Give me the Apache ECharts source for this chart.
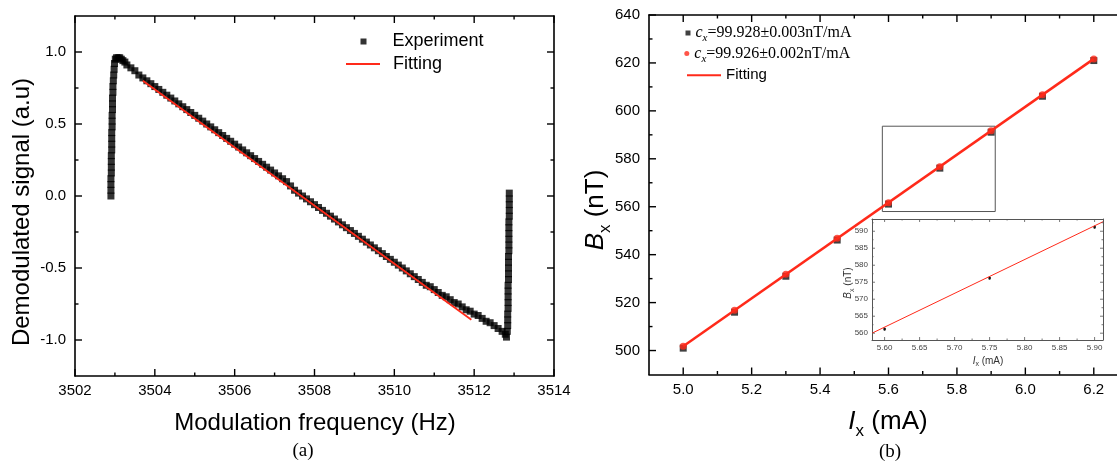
<!DOCTYPE html>
<html><head><meta charset="utf-8">
<script src="https://cdn.jsdelivr.net/npm/echarts@6/dist/echarts.min.js"></script>
<style>html,body{margin:0;padding:0;background:#fff}#c{width:1117px;height:461px}</style>
</head><body><div id="c"></div><script>
// ---------- (a) Demodulated signal ----------
const expFreq = [
3502.90,3502.90,3502.90,3502.90,3502.91,3502.91,3502.91,3502.91,3502.92,3502.92,3502.92,3502.92,
3502.93,3502.93,3502.93,3502.94,3502.94,3502.94,3502.95,3502.95,3502.96,3502.97,3502.98,3502.99,
3503.01,3503.04,3503.08,3503.12,3503.16,3503.20,3503.25,
3503.3,3503.4,3503.5,3503.6,3503.7,3503.8,3503.9,3504.0,3504.1,3504.2,3504.3,3504.4,3504.5,3504.6,3504.7,3504.8,3504.9,
3505.0,3505.1,3505.2,3505.3,3505.4,3505.5,3505.6,3505.7,3505.8,3505.9,3506.0,3506.1,3506.2,3506.3,3506.4,3506.5,3506.6,3506.7,3506.8,3506.9,
3507.0,3507.1,3507.2,3507.3,3507.4,3507.5,3507.6,3507.7,3507.8,3507.9,3508.0,3508.1,3508.2,3508.3,3508.4,3508.5,3508.6,3508.7,3508.8,3508.9,
3509.0,3509.1,3509.2,3509.3,3509.4,3509.5,3509.6,3509.7,3509.8,3509.9,3510.0,3510.1,3510.2,3510.3,3510.4,3510.5,3510.6,3510.7,3510.8,3510.9,
3511.0,3511.1,3511.2,3511.3,3511.4,3511.5,3511.6,3511.7,3511.8,3511.9,3512.0,3512.1,3512.2,3512.3,3512.4,3512.5,3512.6,3512.7,3512.78,3512.81,
3512.83,3512.84,3512.84,3512.84,3512.85,3512.85,3512.85,3512.85,3512.85,3512.86,3512.86,3512.86,3512.86,
3512.86,3512.87,3512.87,3512.87,3512.87,3512.87,3512.87,3512.88,3512.88,3512.88,3512.88,3512.88
];
const expSignal = [
0.00,0.04,0.08,0.12,0.16,0.20,0.24,0.28,0.32,0.36,0.40,0.44,
0.48,0.52,0.56,0.60,0.64,0.68,0.72,0.76,0.80,0.84,0.88,0.92,
0.95,0.96,0.96,0.96,0.95,0.94,0.93,
0.91,0.89,0.87,0.84,0.82,0.80,0.78,0.76,0.74,0.72,0.70,0.68,0.66,0.64,0.62,0.60,0.58,
0.56,0.54,0.52,0.50,0.48,0.46,0.44,0.42,0.40,0.38,0.36,0.34,0.32,0.30,0.28,0.26,0.24,0.22,0.20,0.18,
0.16,0.14,0.12,0.10,0.07,0.04,0.02,0.00,-0.02,-0.04,-0.06,-0.08,-0.10,-0.12,-0.14,-0.16,-0.18,-0.20,-0.22,-0.24,
-0.26,-0.28,-0.30,-0.32,-0.34,-0.36,-0.38,-0.40,-0.42,-0.44,-0.46,-0.48,-0.50,-0.52,-0.54,-0.56,-0.58,-0.60,-0.62,-0.63,
-0.65,-0.67,-0.69,-0.70,-0.72,-0.74,-0.75,-0.77,-0.79,-0.80,-0.82,-0.83,-0.85,-0.87,-0.88,-0.90,-0.92,-0.94,-0.96,-0.98,
-0.94,-0.90,-0.86,-0.82,-0.78,-0.74,-0.70,-0.66,-0.62,-0.58,-0.54,-0.50,-0.46,
-0.42,-0.38,-0.34,-0.30,-0.26,-0.22,-0.18,-0.14,-0.10,-0.06,-0.02,0.02
];
const fitFreqA = [3503.70, 3511.93];
const fitSignalA = [0.80, -0.86];
const freqRange = [3502, 3514];
const freqTicks = [3502, 3504, 3506, 3508, 3510, 3512, 3514];
const freqMinorTicks = [3503, 3505, 3507, 3509, 3511, 3513];
const signalRange = [-1.25, 1.25];
const signalTicks = [-1.0, -0.5, 0.0, 0.5, 1.0];
const signalMinorTicks = [-0.75, -0.25, 0.25, 0.75];

// ---------- (b) Bx vs Ix ----------
const currentIx = [5.0, 5.15, 5.3, 5.45, 5.6, 5.75, 5.9, 6.05, 6.2];
const fieldBlack = [501.0, 516.0, 531.0, 546.1, 561.1, 576.1, 591.1, 606.1, 621.0];
const fieldRed = [501.8, 516.8, 531.8, 546.8, 561.7, 576.7, 591.7, 606.7, 621.6];
const fitIx = [5.0, 6.2];
const fitBx = [501.8, 621.7];
const ixRange = [4.9, 6.3];
const ixTicks = [5.0, 5.2, 5.4, 5.6, 5.8, 6.0, 6.2];
const ixMinorTicks = [5.1, 5.3, 5.5, 5.7, 5.9, 6.1];
const bxRange = [490, 640];
const bxTicks = [500, 520, 540, 560, 580, 600, 620, 640];
const bxMinorTicks = [510, 530, 550, 570, 590, 610, 630];
const zoomIx = [5.582, 5.912];
const zoomBx = [558.0, 593.6];
// inset
const insetIx = [5.60, 5.75, 5.90];
const insetBx = [561.2, 576.2, 591.2];
const insetErr = [0.5, 0.5, 0.5];
const insetFitIx = [5.582, 5.912];
const insetFitBx = [560.0, 592.8];
const insetIxRange = [5.582, 5.912];
const insetIxTicks = [5.60, 5.65, 5.70, 5.75, 5.80, 5.85, 5.90];
const insetIxMinorTicks = [5.625, 5.675, 5.725, 5.775, 5.825, 5.875];
const insetBxRange = [558.0, 593.6];
const insetBxTicks = [560, 565, 570, 575, 580, 585, 590];
const insetBxMinorTicks = [562.5, 567.5, 572.5, 577.5, 582.5, 587.5, 592.5];

const SANS = 'Liberation Sans, Arial, sans-serif';
const SERIF = 'Liberation Serif, Times New Roman, serif';
const RED = '#ff2a1a';

function panel(p, box, xr, yr, xT, xMt, yT, yMt, st, fmtX, fmtY) {
  const grid = Object.assign({ outerBoundsMode: 'none', containLabel: false }, box,
    st.bg ? { show: true, backgroundColor: '#fff', borderWidth: 0 } : {});
  const ax = (pos, r, labels, fmt, margin) => ({
    type: 'value', gridIndex: p, position: pos, min: r[0], max: r[1],
    axisLine: { show: true, onZero: false, lineStyle: { color: st.color, width: st.lineWidth } },
    axisTick: { show: false },
    axisLabel: labels ? { show: true, customValues: labels, formatter: fmt, fontSize: st.fontSize, fontFamily: SANS,
      color: st.labelColor, margin: margin } : { show: false },
    splitLine: { show: false }
  });
  const xAxis = [ax('bottom', xr, xT, fmtX, st.marginX), ax('top', xr, null)];
  const yAxis = [ax('left', yr, yT, fmtY, st.marginY), ax('right', yr, null)];
  // tick marks on all four sides, pointing into the box, placed through the axes' scales
  // item: [x, y, side(0 = x tick, 1 = y tick), length]
  const tickData = [].concat(
    xT.map(v => [v, yr[0], 0, st.majorLen]), xMt.map(v => [v, yr[0], 0, st.minorLen]),
    yT.map(v => [xr[0], v, 1, st.majorLen]), yMt.map(v => [xr[0], v, 1, st.minorLen]));
  const ticks = {
    type: 'custom', name: 'ticks' + p, xAxisIndex: 2 * p, yAxisIndex: 2 * p, silent: true, clip: false, z: 10,
    data: tickData,
    renderItem: function (params, api) {
      const pt = api.coord([api.value(0), api.value(1)]);
      const side = api.value(2), len = api.value(3);
      const cs = params.coordSys;
      const sty = { stroke: st.tickColor, lineWidth: st.tickWidth };
      if (side === 0) {
        const x = pt[0], b = cs.y + cs.height, t = cs.y;
        return { type: 'group', children: [
          { type: 'line', shape: { x1: x, y1: b, x2: x, y2: b - len }, style: sty },
          { type: 'line', shape: { x1: x, y1: t, x2: x, y2: t + len }, style: sty } ] };
      }
      const y = pt[1], l = cs.x, r = cs.x + cs.width;
      return { type: 'group', children: [
        { type: 'line', shape: { x1: l, y1: y, x2: l + len, y2: y }, style: sty },
        { type: 'line', shape: { x1: r, y1: y, x2: r - len, y2: y }, style: sty } ] };
    }
  };
  return { grid, xAxis, yAxis, ticks };
}

const mainStyle = { color: '#000', tickColor: '#000', lineWidth: 1.6, tickWidth: 1.4, majorLen: 7, minorLen: 3.5, fontSize: 15, labelColor: '#000' };
const insetStyle = { color: '#555', tickColor: '#555', lineWidth: 1, tickWidth: 0.8, majorLen: 3, minorLen: 1.5, fontSize: 8, labelColor: '#444',
  marginX: 4, marginY: 4, bg: true };

const pA = panel(0, { left: 75, top: 16, width: 479, height: 360 }, freqRange, signalRange,
  freqTicks, freqMinorTicks, signalTicks, signalMinorTicks,
  Object.assign({}, mainStyle, { marginX: 7, marginY: 9 }), v => String(Math.round(v)), v => v.toFixed(1));
const pB = panel(1, { left: 649, top: 15, width: 479, height: 359.5 }, ixRange, bxRange,
  ixTicks, ixMinorTicks, bxTicks, bxMinorTicks,
  Object.assign({}, mainStyle, { marginX: 8, marginY: 9 }), v => v.toFixed(1), v => String(Math.round(v)));
const pC = panel(2, { left: 872, top: 219, width: 231, height: 121 }, insetIxRange, insetBxRange,
  insetIxTicks, insetIxMinorTicks, insetBxTicks, insetBxMinorTicks,
  insetStyle, v => v.toFixed(2), v => String(Math.round(v)));

const zip = (a, b) => a.map((v, i) => [v, b[i]]);
const sub = (b, c, s, f) => ({
  c: { fontFamily: f, fontSize: b, fontStyle: 'italic', lineHeight: b + 6, color: c },
  s: { fontFamily: f, fontSize: s, fontStyle: 'italic', verticalAlign: 'bottom', lineHeight: s - 1, color: c },
  t: { fontFamily: f, fontSize: b, lineHeight: b + 6, color: c } });

const chart = echarts.init(document.getElementById('c'), null, { renderer: 'canvas' });
chart.setOption({
  animation: false,
  backgroundColor: '#fff',
  grid: [pA.grid, pB.grid, pC.grid],
  xAxis: [].concat(pA.xAxis, pB.xAxis, pC.xAxis),
  yAxis: [].concat(pA.yAxis, pB.yAxis, pC.yAxis),
  legend: [
    { data: ['Experiment'], left: 360.5, top: 31.5, padding: 0, icon: 'rect', itemWidth: 6, itemHeight: 6,
      selectedMode: false,
      textStyle: { fontFamily: SANS, fontSize: 18, color: '#000', lineHeight: 20, padding: [0, 0, 0, 21] } },
    { data: ['Fitting'], left: 346, top: 54, padding: 0, icon: 'rect', itemWidth: 34, itemHeight: 2,
      selectedMode: false,
      textStyle: { fontFamily: SANS, fontSize: 18, color: '#000', lineHeight: 20, padding: [0, 0, 0, 8] } },
    { data: ['cx1'], left: 685.5, top: 25, padding: 0, icon: 'rect', itemWidth: 5, itemHeight: 5,
      selectedMode: false,
      formatter: () => '{c|c}{s|x}{t|=99.928\u00B10.003nT/mA}',
      textStyle: { color: '#000', rich: sub(16, '#000', 11, SERIF) } },
    { data: ['cx2'], left: 684.3, top: 45.5, padding: 0, icon: 'circle', itemWidth: 5, itemHeight: 5,
      selectedMode: false,
      formatter: () => '{c|c}{s|x}{t|=99.926\u00B10.002nT/mA}',
      textStyle: { color: '#000', rich: sub(16, '#000', 11, SERIF) } },
    { data: ['FittingB'], left: 687, top: 67.3, padding: 0, icon: 'rect', itemWidth: 34, itemHeight: 2,
      selectedMode: false, formatter: () => 'Fitting',
      textStyle: { fontFamily: SANS, fontSize: 15, color: '#000', lineHeight: 16 } }
  ],
  series: [
    pA.ticks, pB.ticks, pC.ticks,
    { name: 'Experiment', type: 'scatter', xAxisIndex: 0, yAxisIndex: 0, symbol: 'rect', symbolSize: 7,
      itemStyle: { color: '#000' }, data: zip(expFreq, expSignal), silent: true },
    { name: 'Fitting', type: 'line', xAxisIndex: 0, yAxisIndex: 0, showSymbol: false, symbol: 'none',
      itemStyle: { color: RED }, lineStyle: { color: RED, width: 1.8 }, data: zip(fitFreqA, fitSignalA), silent: true },

    { name: 'cx1', type: 'scatter', xAxisIndex: 2, yAxisIndex: 2, symbol: 'rect', symbolSize: 7,
      itemStyle: { color: '#111' }, data: zip(currentIx, fieldBlack), silent: true,
      markArea: { silent: true, label: { show: false },
        itemStyle: { color: 'rgba(0,0,0,0)', borderColor: '#555', borderWidth: 1 },
        data: [[{ coord: [zoomIx[0], zoomBx[0]] }, { coord: [zoomIx[1], zoomBx[1]] }]] } },
    { name: 'FittingB', type: 'line', xAxisIndex: 2, yAxisIndex: 2, showSymbol: false, symbol: 'none',
      itemStyle: { color: RED }, lineStyle: { color: RED, width: 2.5 }, data: zip(fitIx, fitBx), silent: true },
    { name: 'cx2', type: 'scatter', xAxisIndex: 2, yAxisIndex: 2, symbol: 'circle', symbolSize: 7,
      itemStyle: { color: RED }, data: zip(currentIx, fieldRed), silent: true },

    { name: 'insetFit', type: 'line', xAxisIndex: 4, yAxisIndex: 4, showSymbol: false, symbol: 'none',
      lineStyle: { color: RED, width: 1 }, data: zip(insetFitIx, insetFitBx), silent: true },
    { name: 'insetPts', type: 'custom', xAxisIndex: 4, yAxisIndex: 4, silent: true,
      data: insetIx.map((x, i) => [x, insetBx[i], insetErr[i]]),
      renderItem: function (params, api) {
        const x = api.value(0), y = api.value(1), e = api.value(2);
        const p = api.coord([x, y]);
        const lo = api.coord([x, y - e]);
        const hi = api.coord([x, y + e]);
        return { type: 'group', children: [
          { type: 'line', shape: { x1: lo[0], y1: lo[1], x2: hi[0], y2: hi[1] }, style: { stroke: '#111', lineWidth: 0.8 } },
          { type: 'rect', shape: { x: p[0] - 1.2, y: p[1] - 1.2, width: 2.4, height: 2.4 }, style: { fill: '#111' } }
        ] };
      } }
  ],
  graphic: { elements: [
    { type: 'text', x: 22, y: 212, rotation: Math.PI / 2, silent: true,
      style: { text: 'Demodulated signal (a.u)', fontFamily: SANS, fontSize: 24, fill: '#000', align: 'center', verticalAlign: 'middle' } },
    { type: 'text', x: 315, y: 423, silent: true,
      style: { text: 'Modulation frequency (Hz)', fontFamily: SANS, fontSize: 24, fill: '#000', align: 'center', verticalAlign: 'middle' } },
    { type: 'text', x: 303, y: 451, silent: true,
      style: { text: '(a)', fontFamily: SERIF, fontSize: 19, fill: '#000', align: 'center', verticalAlign: 'middle' } },
    { type: 'text', x: 596, y: 210, rotation: Math.PI / 2, silent: true,
      style: { text: '{b|B}{s|x}{n| (nT)}', align: 'center', verticalAlign: 'middle', fill: '#000',
        rich: { b: { fontFamily: SANS, fontSize: 26, fontStyle: 'italic', lineHeight: 36, fill: '#000' },
                s: { fontFamily: SANS, fontSize: 17, verticalAlign: 'bottom', lineHeight: 17, fill: '#000' },
                n: { fontFamily: SANS, fontSize: 26, lineHeight: 36, fill: '#000' } } } },
    { type: 'text', x: 888, y: 422, silent: true,
      style: { text: '{b|I}{s|x}{n| (mA)}', align: 'center', verticalAlign: 'middle', fill: '#000',
        rich: { b: { fontFamily: SANS, fontSize: 26, fontStyle: 'italic', lineHeight: 36, fill: '#000' },
                s: { fontFamily: SANS, fontSize: 17, verticalAlign: 'bottom', lineHeight: 17, fill: '#000' },
                n: { fontFamily: SANS, fontSize: 26, lineHeight: 36, fill: '#000' } } } },
    { type: 'text', x: 890, y: 452, silent: true,
      style: { text: '(b)', fontFamily: SERIF, fontSize: 19, fill: '#000', align: 'center', verticalAlign: 'middle' } },
    { type: 'text', x: 848.5, y: 283, rotation: Math.PI / 2, silent: true,
      style: { text: '{b|B}{s|x}{n| (nT)}', align: 'center', verticalAlign: 'middle', fill: '#333',
        rich: { b: { fontFamily: SANS, fontSize: 10, fontStyle: 'italic', lineHeight: 14, fill: '#333' },
                s: { fontFamily: SANS, fontSize: 7, verticalAlign: 'bottom', lineHeight: 7, fill: '#333' },
                n: { fontFamily: SANS, fontSize: 10, lineHeight: 14, fill: '#333' } } } },
    { type: 'text', x: 988, y: 361, silent: true,
      style: { text: '{b|I}{s|x}{n| (mA)}', align: 'center', verticalAlign: 'middle', fill: '#333',
        rich: { b: { fontFamily: SANS, fontSize: 10, fontStyle: 'italic', lineHeight: 14, fill: '#333' },
                s: { fontFamily: SANS, fontSize: 7, verticalAlign: 'bottom', lineHeight: 7, fill: '#333' },
                n: { fontFamily: SANS, fontSize: 10, lineHeight: 14, fill: '#333' } } } }
  ] }
});
</script></body></html>
